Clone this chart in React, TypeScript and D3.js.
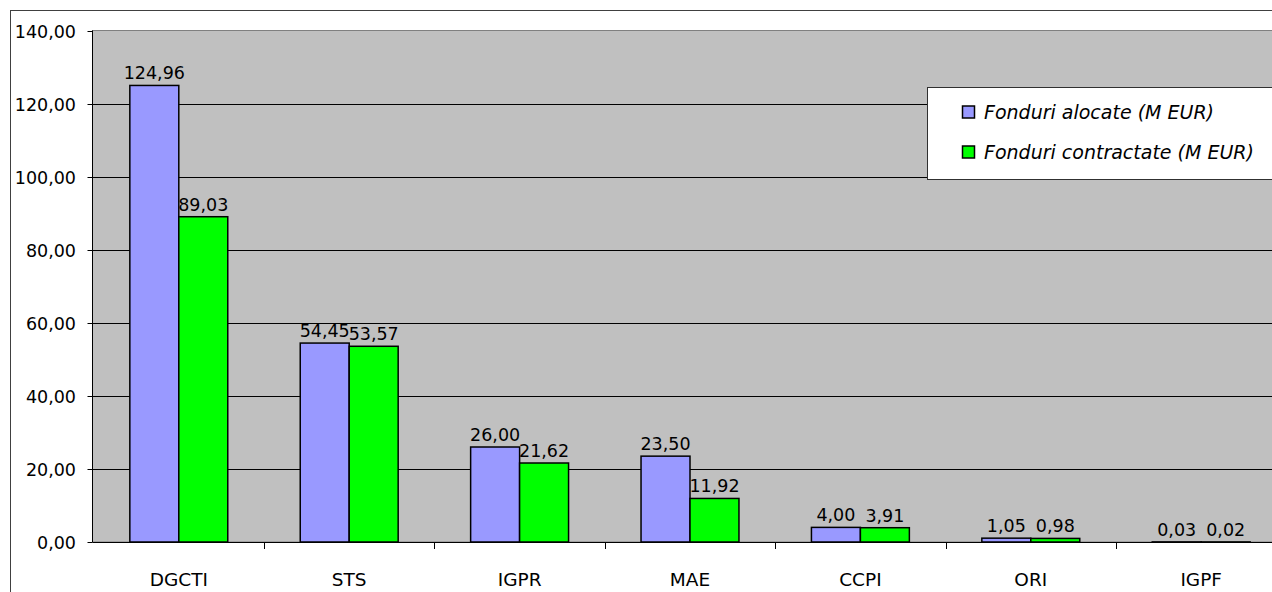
import React, { useEffect, useRef } from "react";
import * as d3 from "d3";

// values
const categories = ["DGCTI", "STS", "IGPR", "MAE", "CCPI", "ORI", "IGPF"];
const alocate = [124.96, 54.45, 26.0, 23.5, 4.0, 1.05, 0.03];
const contractate = [89.03, 53.57, 21.62, 11.92, 3.91, 0.98, 0.02];
const seriesNames = ["Fonduri alocate (M EUR)", "Fonduri contractate (M EUR)"];
const seriesColors = ["#9999FF", "#00FF00"];
const yTicks = [0, 20, 40, 60, 80, 100, 120, 140];

const fmt = (v: number) => d3.format(".2f")(v).replace(".", ",");

const App: React.FC = () => {
    const ref = useRef<SVGSVGElement>(null);

    useEffect(() => {
        const svg = d3.select(ref.current);
        svg.selectAll("*").remove();

        const W = 1272;
        const H = 592;
        const font = "'DejaVu Sans', sans-serif";
        const plot = { left: 92.5, top: 30.5, bottom: 542 };

        // outer chart frame (cropped at right and bottom)
        svg.append("rect")
            .attr("x", 10.5).attr("y", 10.5)
            .attr("width", W + 20).attr("height", H + 20)
            .attr("fill", "white").attr("stroke", "#404040");

        const x = d3.scaleBand<string>()
            .domain(categories)
            .range([93.6, 93.6 + 7 * 170.4])
            .padding(0);
        const sub = d3.scaleBand<string>()
            .domain(["a", "c"])
            .range([0, x.bandwidth()])
            .paddingInner(0)
            .paddingOuter(0.74);
        const y = d3.scaleLinear().domain([0, 140]).range([plot.bottom, plot.top]);

        // plot area
        svg.append("rect")
            .attr("x", plot.left).attr("y", plot.top)
            .attr("width", W + 20).attr("height", plot.bottom - plot.top)
            .attr("fill", "#C0C0C0").attr("stroke", "#808080");

        // gridlines
        svg.append("g").selectAll("line")
            .data(yTicks.filter((t) => t > 0 && t < 140))
            .enter().append("line")
            .attr("x1", plot.left).attr("x2", W)
            .attr("y1", (d) => Math.round(y(d)) + 0.5)
            .attr("y2", (d) => Math.round(y(d)) + 0.5)
            .attr("stroke", "black");

        // bars
        const series = [alocate, contractate];
        series.forEach((vals, si) => {
            const key = si === 0 ? "a" : "c";
            const g = svg.append("g");
            g.selectAll("rect")
                .data(vals)
                .enter().append("rect")
                .attr("x", (_, i) => x(categories[i])! + sub(key)!)
                .attr("y", (d) => y(d))
                .attr("width", sub.bandwidth())
                .attr("height", (d) => y(0) - y(d))
                .attr("fill", seriesColors[si])
                .attr("stroke", "black")
                .attr("stroke-width", 1.5);
            g.selectAll("text")
                .data(vals)
                .enter().append("text")
                .attr("x", (_, i) => x(categories[i])! + sub(key)! + sub.bandwidth() / 2)
                .attr("y", (d) => y(d) - 6)
                .attr("text-anchor", "middle")
                .attr("font-family", font)
                .attr("font-size", 17.5)
                .attr("fill", "black")
                .text((d) => fmt(d));
        });

        // y axis
        const ya = svg.append("g");
        ya.append("line")
            .attr("x1", plot.left).attr("x2", plot.left)
            .attr("y1", plot.top).attr("y2", plot.bottom)
            .attr("stroke", "black");
        yTicks.forEach((t) => {
            const yy = Math.round(y(t)) + 0.5;
            ya.append("line")
                .attr("x1", plot.left - 5).attr("x2", plot.left)
                .attr("y1", yy).attr("y2", yy)
                .attr("stroke", "black");
            ya.append("text")
                .attr("x", 76).attr("y", yy)
                .attr("dy", "0.35em")
                .attr("text-anchor", "end")
                .attr("font-family", font)
                .attr("font-size", 17.5)
                .text(fmt(t));
        });

        // x axis
        const xa = svg.append("g");
        xa.append("line")
            .attr("x1", plot.left).attr("x2", W)
            .attr("y1", plot.bottom + 0.5).attr("y2", plot.bottom + 0.5)
            .attr("stroke", "black");
        categories.forEach((c) => {
            const bx = Math.round(x(c)! + x.bandwidth()) + 0.5;
            xa.append("line")
                .attr("x1", bx).attr("x2", bx)
                .attr("y1", plot.bottom).attr("y2", plot.bottom + 7)
                .attr("stroke", "black");
            xa.append("text")
                .attr("x", x(c)! + x.bandwidth() / 2)
                .attr("y", 586)
                .attr("text-anchor", "middle")
                .attr("font-family", font)
                .attr("font-size", 18.5)
                .text(c);
        });

        // legend
        const lg = svg.append("g");
        lg.append("rect")
            .attr("x", 927.5).attr("y", 87.5)
            .attr("width", 400).attr("height", 92)
            .attr("fill", "white").attr("stroke", "#303030");
        seriesNames.forEach((name, i) => {
            const cy = 112 + i * 40;
            lg.append("rect")
                .attr("x", 962.5).attr("y", cy - 6)
                .attr("width", 12).attr("height", 12)
                .attr("fill", seriesColors[i])
                .attr("stroke", "black").attr("stroke-width", 1.5);
            lg.append("text")
                .attr("x", 984).attr("y", cy)
                .attr("dy", "0.36em")
                .attr("font-family", font)
                .attr("font-style", "italic")
                .attr("font-size", 19)
                .text(name);
        });
    }, []);

    return (
        <div style={{ position: "fixed", left: 0, top: 0 }}>
            <svg ref={ref} width={1272} height={592} style={{ display: "block" }} />
        </div>
    );
};

export default App;
